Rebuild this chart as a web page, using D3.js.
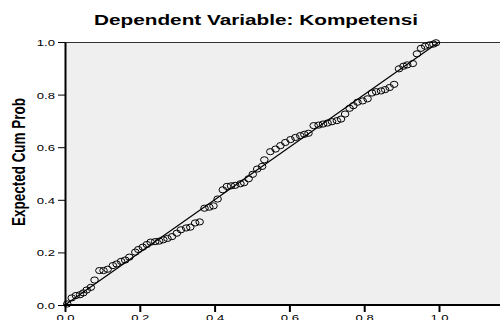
<!DOCTYPE html>
<html>
<head>
<meta charset="utf-8">
<script src="https://cdn.jsdelivr.net/npm/d3@7"></script>
<style>
  html, body { margin: 0; padding: 0; background: #ffffff; }
  svg { display: block; }
  text { font-family: "Liberation Sans", Arial, sans-serif; fill: #000; }
</style>
</head>
<body>
<svg id="chart" width="500" height="320"></svg>
<script>
// ---- Data ----
const chartTitle = "Dependent Variable: Kompetensi";
const yAxisTitle = "Expected Cum Prob";
const tickValues = [0.0, 0.2, 0.4, 0.6, 0.8, 1.0];

// Observed cumulative probability (x)
const observedCumProb = [
  0.006, 0.018, 0.029, 0.040, 0.049, 0.058, 0.069, 0.079, 0.092, 0.103,
  0.114, 0.128, 0.138, 0.150, 0.161, 0.172, 0.188, 0.196, 0.208, 0.219,
  0.229, 0.241, 0.252, 0.263, 0.274, 0.286, 0.299, 0.310, 0.324, 0.335,
  0.348, 0.360, 0.373, 0.386, 0.397, 0.408, 0.422, 0.433, 0.444, 0.455,
  0.469, 0.479, 0.491, 0.502, 0.514, 0.527, 0.533, 0.549, 0.563, 0.576,
  0.589, 0.603, 0.616, 0.629, 0.640, 0.651, 0.665, 0.678, 0.690, 0.702,
  0.714, 0.727, 0.738, 0.749, 0.761, 0.771, 0.782, 0.796, 0.809, 0.821,
  0.832, 0.845, 0.856, 0.868, 0.880, 0.893, 0.905, 0.915, 0.930, 0.941,
  0.952, 0.963, 0.974, 0.985, 0.992
];
// Expected cumulative probability (y)
const expectedCumProb = [
  0.004, 0.027, 0.036, 0.039, 0.046, 0.057, 0.067, 0.095, 0.131, 0.131,
  0.136, 0.150, 0.156, 0.166, 0.171, 0.182, 0.201, 0.211, 0.220, 0.230,
  0.239, 0.241, 0.243, 0.248, 0.253, 0.260, 0.273, 0.286, 0.293, 0.296,
  0.312, 0.316, 0.368, 0.372, 0.377, 0.403, 0.438, 0.451, 0.453, 0.455,
  0.461, 0.465, 0.480, 0.497, 0.517, 0.527, 0.552, 0.583, 0.593, 0.606,
  0.618, 0.629, 0.637, 0.644, 0.649, 0.653, 0.682, 0.684, 0.688, 0.692,
  0.697, 0.701, 0.707, 0.726, 0.748, 0.758, 0.771, 0.776, 0.784, 0.806,
  0.811, 0.814, 0.819, 0.827, 0.839, 0.898, 0.908, 0.913, 0.918, 0.955,
  0.976, 0.984, 0.989, 0.992, 0.997
];
// Reference (diagonal) line endpoints
const refLine = [[0, 0], [1, 1]];

// ---- Layout ----
const svg = d3.select("#chart");
const plotLeft = 65, plotTop = 42, plotBottom = 305, plotRight = 520;
const sx = 1.38; // horizontal stretch of text seen in the reference

const x = d3.scaleLinear().domain([0, 1]).range([plotLeft, 439]);
const y = d3.scaleLinear().domain([0, 1]).range([plotBottom, plotTop]);

// plot background
svg.append("rect")
  .attr("x", plotLeft).attr("y", plotTop)
  .attr("width", plotRight - plotLeft).attr("height", plotBottom - plotTop)
  .attr("fill", "#efefef");
// top border
svg.append("line")
  .attr("x1", plotLeft).attr("x2", plotRight)
  .attr("y1", plotTop + 0.5).attr("y2", plotTop + 0.5)
  .attr("stroke", "#333").attr("stroke-width", 1);

// title
svg.append("text")
  .attr("x", 256).attr("y", 25)
  .attr("text-anchor", "middle")
  .attr("font-size", 15.5).attr("font-weight", "bold")
  .attr("textLength", 324).attr("lengthAdjust", "spacingAndGlyphs")
  .text(chartTitle);

// y axis title
svg.append("text")
  .attr("transform", `translate(24.5,162) rotate(-90) scale(1,1.3)`)
  .attr("text-anchor", "middle")
  .attr("font-size", 13.5).attr("font-weight", "bold")
  .text(yAxisTitle);

// reference line
svg.append("line")
  .attr("x1", x(refLine[0][0])).attr("y1", y(refLine[0][1]))
  .attr("x2", x(refLine[1][0])).attr("y2", y(refLine[1][1]))
  .attr("stroke", "#000").attr("stroke-width", 1.2);

// points
const pts = observedCumProb.map((o, i) => ({ o, e: expectedCumProb[i] }));
svg.append("g").selectAll("ellipse").data(pts).join("ellipse")
  .attr("cx", d => x(d.o)).attr("cy", d => y(d.e))
  .attr("rx", 3.8).attr("ry", 3.1)
  .attr("fill", "none").attr("stroke", "#000").attr("stroke-width", 1);

// y axis
const fmt = d3.format(".1f");
const gy = svg.append("g").attr("transform", `translate(${plotLeft},0)`)
  .call(d3.axisLeft(y).tickValues(tickValues).tickFormat(fmt).tickSize(7).tickSizeOuter(0).tickPadding(3));
gy.select(".domain").attr("stroke", "#000").attr("stroke-width", 2);
gy.selectAll(".tick line").attr("stroke", "#000").attr("stroke-width", 1);
gy.selectAll(".tick text")
  .attr("font-family", "Liberation Sans, Arial, sans-serif")
  .attr("font-size", 9.5).attr("fill", "#000")
  .attr("x", null).attr("dy", null)
  .attr("transform", `translate(-10,3.5) scale(${sx},1)`)
  .attr("text-anchor", "end");

// x axis
const gx = svg.append("g").attr("transform", `translate(0,${plotBottom})`)
  .call(d3.axisBottom(x).tickValues(tickValues).tickFormat(fmt).tickSize(7).tickSizeOuter(0).tickPadding(3));
gx.select(".domain").remove();
svg.append("line")
  .attr("x1", plotLeft - 1).attr("x2", plotRight)
  .attr("y1", plotBottom).attr("y2", plotBottom)
  .attr("stroke", "#000").attr("stroke-width", 2);
gx.selectAll(".tick line").attr("stroke", "#000").attr("stroke-width", 2);
gx.selectAll(".tick text")
  .attr("font-family", "Liberation Sans, Arial, sans-serif")
  .attr("font-size", 9.5).attr("fill", "#000")
  .attr("y", null).attr("dy", null)
  .attr("transform", `translate(0,16) scale(${sx},1)`)
  .attr("text-anchor", "middle");
</script>
</body>
</html>
